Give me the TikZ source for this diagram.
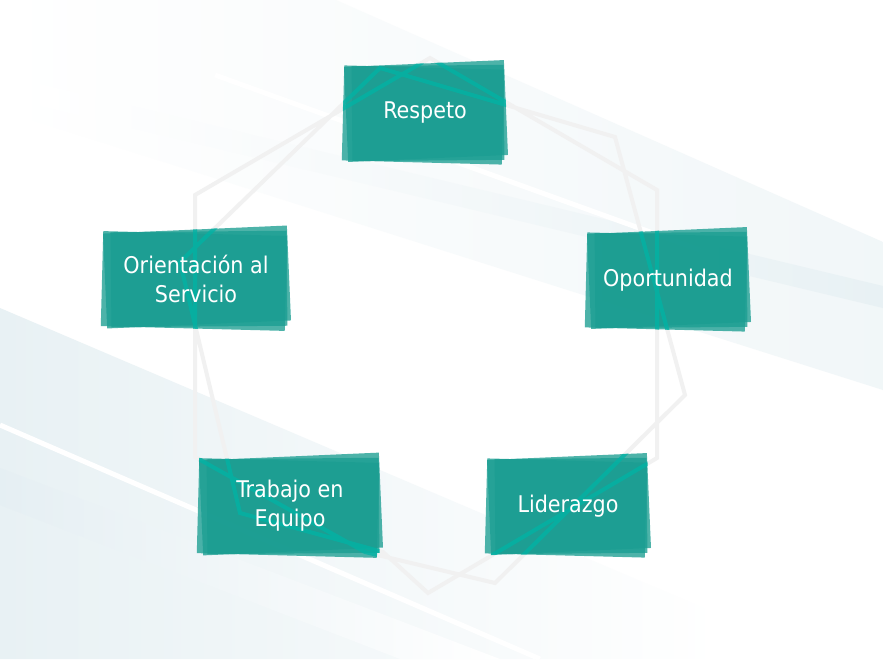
\documentclass[tikz,border=0pt]{standalone}
\usepackage{fontspec}
\setmainfont{DejaVu Sans Condensed}
\usetikzlibrary{positioning}
\definecolor{boxteal}{RGB}{27,158,146}
\definecolor{lineteal}{RGB}{0,180,166}
\definecolor{loopgray}{RGB}{241,241,241}
\definecolor{stripepale}{RGB}{232,241,244}
\definecolor{stripedark}{RGB}{212,228,235}
\tikzset{x=1pt, y=-1pt,
  boxlayer/.style={fill=boxteal, fill opacity=0.78, inner sep=0pt, minimum width=#1, minimum height=95},
  boxtext/.style={text=white, align=center, font=\fontsize{23}{29}\selectfont},
  loopline/.style={loopgray, line width=4, line join=miter},
  looptealline/.style={lineteal, line width=4, opacity=0.75}
}
\newcommand{\looppath}{(430,58) -- (657,190) -- (657,458) -- (428,593) -- (383,552) -- (240,513) -- (180,262) -- (380,68) -- (615,137) -- (685,395) -- (495,583) -- (365,552) -- (195,457) -- (195,195) -- cycle}

\begin{document}
\begin{tikzpicture}
    \useasboundingbox (0,0) rectangle (883,659);
    % fondo con franjas
    \begin{scope}
        \clip (0,0) rectangle (883,659);
        \fill[white] (0,0) rectangle (883,659);
        \shade[left color=white, middle color=stripepale, right color=white!40!stripepale] (336,0) -- (883,242) -- (883,390) -- (0,110) -- (0,0) -- cycle;
        \shade[left color=white, middle color=stripedark, right color=stripepale] (40,84) -- (883,286) -- (883,308) -- (40,106) -- cycle;
        \draw[white, line width=5] (215,75) -- (700,250);
        \shade[left color=stripepale, middle color=stripepale, right color=white] (0,308) -- (720,615) -- (720,659) -- (0,659) -- cycle;
        \shade[left color=stripedark!60!white, middle color=stripedark, right color=white] (0,468) -- (500,659) -- (400,659) -- (0,505) -- cycle;
        \draw[white, line width=5] (0,425) -- (540,659);
    \end{scope}
    % ciclo
    \draw[loopline] \looppath;
    % cajas
    \foreach \n/\x/\y/\w/\t in {resp/425/113/160/Respeto, opor/668/280/160/Oportunidad, lide/568/506/160/Liderazgo, trab/290/506/180/{Trabajo en\\Equipo}, orie/196/279/184/{Orientación al\\Servicio}} {
        \node[boxlayer=\w, rotate=2.5] (\n-a) at (\x+1,\y-2) {};
        \node[boxlayer=\w, rotate=-1.5] (\n-b) at (\x-2,\y+2) {};
        \node[boxlayer=\w-8, rotate=0.5] (\n-c) at (\x+3,\y) {};
        \begin{scope}
            \clip (\n-a.north west) -- (\n-a.north east) -- (\n-a.south east) -- (\n-a.south west) -- cycle
                  (\n-b.north west) -- (\n-b.north east) -- (\n-b.south east) -- (\n-b.south west) -- cycle
                  (\n-c.north west) -- (\n-c.north east) -- (\n-c.south east) -- (\n-c.south west) -- cycle;
            \draw[looptealline] \looppath;
        \end{scope}
        \node[boxtext] (\n) at (\x,\y) {\t};
    }
\end{tikzpicture}
\end{document}
